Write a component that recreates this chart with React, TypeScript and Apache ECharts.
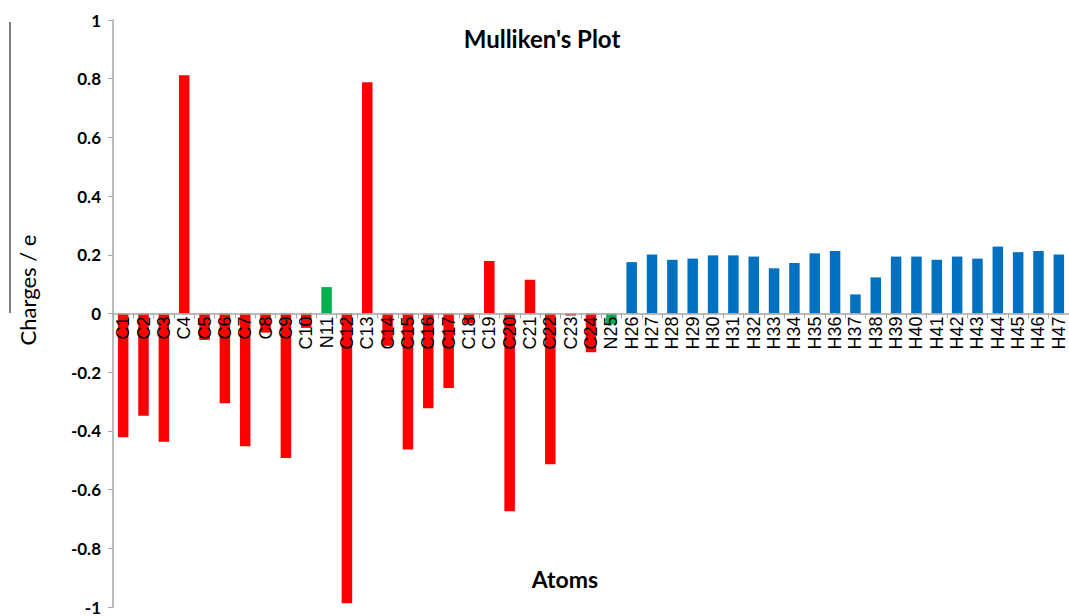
import React, { useEffect, useRef } from "react";
import * as echarts from "echarts";

// Atom labels along the x axis
const atoms: string[] = [
  "C1", "C2", "C3", "C4", "C5", "C6", "C7", "C8", "C9", "C10",
  "N11", "C12", "C13", "C14", "C15", "C16", "C17", "C18", "C19", "C20",
  "C21", "C22", "C23", "C24", "N25", "H26", "H27", "H28", "H29", "H30",
  "H31", "H32", "H33", "H34", "H35", "H36", "H37", "H38", "H39", "H40",
  "H41", "H42", "H43", "H44", "H45", "H46", "H47",
];

// Mulliken charges (e) for each atom, same order as above
const charges: number[] = [
  -0.422, -0.348, -0.437, 0.812, -0.09, -0.306, -0.452, -0.065, -0.492, -0.049,
  0.09, -0.987, 0.788, -0.11, -0.463, -0.323, -0.254, -0.034, 0.179, -0.674,
  0.115, -0.514, -0.007, -0.132, -0.037, 0.175, 0.201, 0.183, 0.187, 0.198,
  0.198, 0.194, 0.154, 0.172, 0.205, 0.213, 0.065, 0.123, 0.194, 0.194,
  0.183, 0.194, 0.187, 0.228, 0.209, 0.213, 0.201,
];

// Bar colour per element
const elementColors: Record<string, string> = {
  C: "#FF0000",
  N: "#00B050",
  H: "#0070C0",
};

const yTicks = { min: -1, max: 1, interval: 0.2 };

const GRID_TOP = 20;
const GRID_BOTTOM = 9;
const CHART_H = 616;

export default function App() {
  const ref = useRef<HTMLDivElement>(null);

  useEffect(() => {
    if (!ref.current) return;
    const chart = echarts.init(ref.current, null, { renderer: "svg" });

    const data = charges.map((v, i) => ({
      value: v,
      itemStyle: { color: elementColors[atoms[i].charAt(0)] },
    }));

    // the category axis sits on the zero line, which lies this far above the grid bottom
    const plotH = CHART_H - GRID_TOP - GRID_BOTTOM;
    const zeroOffset =
      (plotH * (0 - yTicks.min)) / (yTicks.max - yTicks.min);

    chart.setOption({
      animation: false,
      backgroundColor: "#ffffff",
      grid: {
        left: 113,
        right: 0,
        top: GRID_TOP,
        bottom: GRID_BOTTOM,
        containLabel: false,
        outerBoundsMode: "none",
      },
      xAxis: {
        type: "category",
        data: atoms,
        z: 5,
        position: "bottom",
        offset: -zeroOffset,
        axisLine: { onZero: false, lineStyle: { color: "#a6a6a6", width: 1.5 } },
        axisTick: {
          show: true,
          alignWithLabel: false,
          length: 5,
          lineStyle: { color: "#a6a6a6" },
        },
        axisLabel: {
          rotate: 90,
          interval: 0,
          margin: 3,
          color: "#000000",
          fontFamily: "Liberation Sans, Arial, sans-serif",
          fontSize: 18,
        },
        splitLine: { show: false },
      },
      yAxis: {
        type: "value",
        min: yTicks.min,
        max: yTicks.max,
        interval: yTicks.interval,
        axisLine: { show: true, lineStyle: { color: "#a6a6a6", width: 1.5 } },
        axisTick: { show: true, length: 5, lineStyle: { color: "#a6a6a6" } },
        axisLabel: {
          margin: 12,
          color: "#000000",
          fontFamily: "Lato, Open Sans, sans-serif",
          fontWeight: "bold",
          fontSize: 17,
          lineHeight: 13,
          formatter: (v: number) => String(Math.round(v * 10) / 10),
        },
        splitLine: { show: false },
      },
      series: [
        {
          type: "bar",
          data,
          barWidth: 10.5,
        },
      ],
      graphic: [
        {
          type: "text",
          x: 542,
          y: 38,
          style: {
            text: "Mulliken's Plot",
            textAlign: "center",
            textVerticalAlign: "middle",
            font: "bold 24px Lato, 'Open Sans', sans-serif",
            fill: "#000000",
          },
        },
        {
          type: "text",
          x: 565,
          y: 579,
          style: {
            text: "Atoms",
            textAlign: "center",
            textVerticalAlign: "middle",
            font: "bold 23px Lato, 'Open Sans', sans-serif",
            fill: "#000000",
          },
        },
        {
          type: "text",
          x: 27,
          y: 290,
          rotation: Math.PI / 2,
          style: {
            text: "Charges / e",
            textAlign: "center",
            textVerticalAlign: "middle",
            font: "22px Lato, 'Open Sans', sans-serif",
            fill: "#000000",
          },
        },
        {
          type: "line",
          shape: { x1: 10, y1: 22, x2: 10, y2: 313 },
          style: { stroke: "#000000", lineWidth: 1 },
        },
      ],
    });

    return () => chart.dispose();
  }, []);

  return (
    <div
      ref={ref}
      style={{ position: "fixed", left: 0, top: 0, width: 1069, height: 616 }}
    />
  );
}
